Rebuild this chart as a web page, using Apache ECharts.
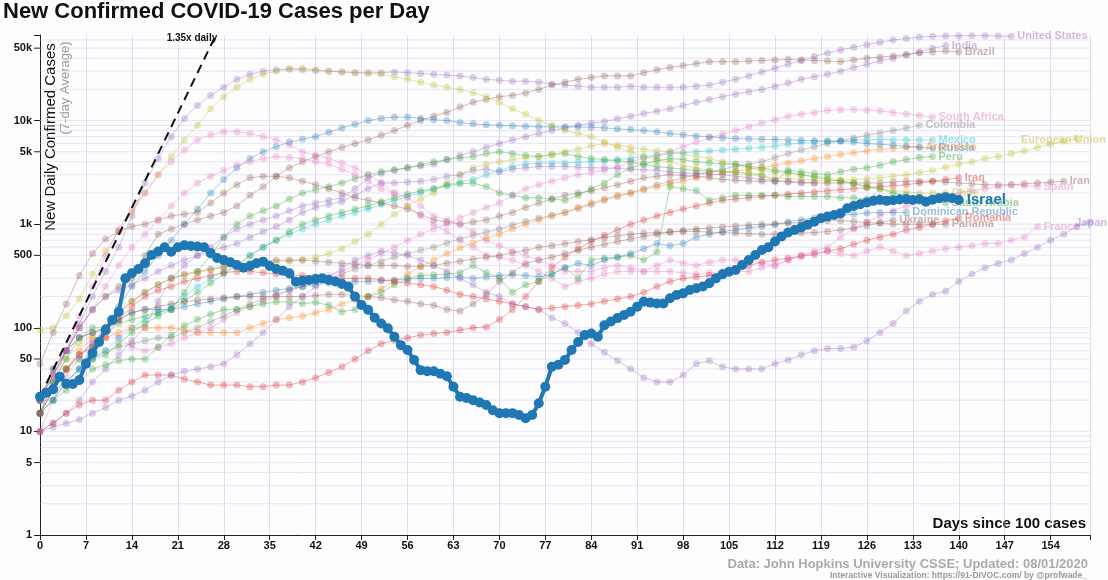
<!DOCTYPE html>
<html><head><meta charset="utf-8">
<script src="https://cdn.jsdelivr.net/npm/echarts@6/dist/echarts.min.js"></script>
<style>html,body{margin:0;padding:0;background:#fdfdfe}#c{width:1108px;height:580px}</style>
</head><body><div id="c"></div>
<script>
// ---------- DATA ----------
const STEP = 2; // background series: one value every 2 days, starting at day 0
const yMajorLabels = [1, 10, 100, 1000, 10000];
const yMinorLabels = [5, 50, 500, 5000, 50000];
const gridValues = [2,3,4,5,6,7,8,9,10,20,30,40,50,60,70,80,90,100,200,300,400,500,600,700,800,900,1000,2000,3000,4000,5000,6000,7000,8000,9000,10000,20000,30000,40000,50000,60000];
const growthLine = [[0, 21.6], [26.7, 65000]];

// Israel, one value per day from day 0
const israel = [21.6,23.6,25.5,33.7,28.7,28.7,31.4,45,57,73,
95,119,143,300,336,370,419,505,545,598,
543,600,627,615,610,600,527,472,450,430,
404,380,395,420,435,395,370,355,336,279,
285,289,295,300,289,280,265,249,200,166,
149,125,110,99,82,68,61,49,39,38,
38,36,34,27,21.6,21,20,19,18,16,
15,15,15,14.4,13.4,14.4,18.7,27,42,44,
49,61,73,85,88,82,106,115,124,133,
143,160,179,175,172,172,193,207,215,232,
241,250,269,300,328,348,361,404,451,505,
564,600,680,760,830,880,930,990,1057,1140,
1185,1228,1278,1424,1500,1560,1620,1680,1713,1680,
1700,1730,1740,1713,1740,1650,1720,1780,1820,1780,
1713];

const usa = [20,35,60,110,200,350,600,1200,2500,4300,7000,10500,14000,17500,21000,25000,28000,30000,31000,31500,31000,30500,30000,29500,29000,29000,29000,29500,29000,28500,28000,27500,27000,26000,25000,24500,24000,24000,23500,22500,22000,21500,21000,21000,21000,21500,21000,21000,21000,21000,21500,22000,23500,25000,27000,29500,32000,35000,38000,41500,45000,48000,51000,54000,57000,60000,62000,64000,65000,65500,66000,66000,66000,65500,65000];
const india = [10,12,15,20,30,40,55,75,100,180,300,400,500,600,750,900,1000,1100,1200,1350,1500,1600,1700,1800,2200,2800,3100,3300,3500,3650,3800,4200,4600,5000,5500,6000,6500,7000,7500,8000,8500,9000,9400,9800,10400,11000,11700,12300,13000,14000,15000,16000,17000,18000,19000,20000,21500,23000,25000,26500,28000,30000,32500,35000,37500,40000,43000,46000,50000,53000];
const brazil = [20,35,60,100,150,200,250,300,500,800,900,1000,1100,1200,1300,1500,1900,2300,2900,3500,4000,4500,5000,5500,6000,6500,7200,8000,9000,10000,11000,12000,13500,15000,16000,17000,17500,18500,20000,22000,23500,25000,26000,27000,27000,27000,29000,31000,32500,34000,35500,37000,37000,37000,37500,38000,38500,39000,38500,38000,37500,37000,38500,40000,41000,42000,43500,45000,46000,47000,46000];
const southAfrica = [10,20,35,50,75,100,80,65,60,65,70,80,90,100,120,140,160,180,200,230,250,280,320,350,400,450,520,600,700,800,900,1000,1150,1300,1450,1600,1900,2200,2400,2600,2800,3000,3150,3300,3600,4000,4300,4600,5000,5600,6200,6800,7400,8000,8700,9500,10200,11000,11500,12000,12500,12700,12800,12600,12400,12000,11600,11200,10800];
const colombia = [20,25,30,40,50,60,65,70,75,80,80,90,100,115,130,150,170,190,210,230,250,280,300,330,370,400,440,480,520,560,600,660,720,780,840,900,980,1060,1140,1220,1300,1420,1550,1700,1850,2000,2200,2400,2600,2800,3000,3200,3400,3600,3800,4000,4400,4800,5200,5600,6000,6400,6800,7200,7600,8000,8500,9000];
const mexico = [15,20,30,40,50,60,80,100,120,140,160,200,250,300,350,400,500,600,700,800,900,1000,1100,1200,1300,1400,1550,1700,1850,2000,2200,2400,2550,2700,3000,3300,3600,3800,3900,3900,3900,3950,4000,4100,4200,4300,4500,4600,4800,4900,5000,5100,5200,5300,5400,5500,5700,5900,6100,6200,6300,6400,6500,6500,6600,6500,6500,6500,6500];
const argentina = [15,25,40,60,80,80,90,100,100,100,100,95,90,90,90,90,100,110,120,125,130,140,150,170,185,200,240,280,330,390,450,520,590,660,730,800,900,1000,1100,1200,1300,1450,1600,1750,1900,2000,2150,2300,2450,2600,2800,2950,3100,3250,3400,3500,3700,3900,4100,4300,4500,4700,4900,5100,5300,5400,5500,5600];
const russia = [15,20,30,40,65,100,160,250,350,500,700,1000,1400,2000,2700,3500,4300,5000,5600,6200,6600,7000,7700,8500,9200,10000,10500,10800,10800,10500,10200,10000,9600,9300,9100,9000,8900,8800,8700,8700,8700,8700,8600,8500,8300,8200,8000,7800,7500,7300,7100,7000,6800,6700,6650,6600,6550,6500,6450,6400,6350,6300,6200,6000,5900,5800,5650,5500,5400];
const peru = [20,30,40,50,50,55,70,90,110,130,150,220,350,500,750,1000,1200,1350,1500,1750,2000,2150,2300,2500,2750,3000,3200,3350,3500,3750,4000,4200,4350,4500,4800,5000,4800,4600,4500,4700,4800,4500,4300,4200,4100,4000,3800,3600,3500,3400,3300,3250,3200,3200,3100,3000,2600,3300,3200,3100,3000,3200,3400,3500,3700,4000,4200,4400,4500];
const eu = [95,100,130,190,330,550,850,1300,2000,3000,4500,6500,9000,13000,17000,21000,25000,28000,30000,31500,32000,31000,30000,29500,29000,28500,28000,26500,25000,23500,22000,21000,20000,18500,17000,15000,13000,11500,10000,9000,8000,7500,7000,6200,5500,5000,4500,4200,4000,3700,3500,3300,3200,3100,3000,2900,2800,2750,2700,2650,2600,2650,2700,2750,2800,2900,3000,3150,3300,3550,3800,4000,4300,4500,4800,5100,5500,5900,6300,6700];
const iraq = [10,12,15,18,20,20,25,30,35,35,35,32,30,28,28,28,27,27,28,28,30,33,37,42,50,60,70,76,80,85,88,90,95,100,102,120,150,200,280,380,480,580,680,780,880,1000,1100,1200,1300,1400,1500,1600,1700,1750,1800,1850,1900,1950,2000,2050,2100,2150,2200,2250,2300,2350,2400,2500,2600,2700,2800];
const iran = [45,90,170,320,520,720,850,950,1000,1100,1200,1250,1300,1600,2000,2400,2800,2900,2900,2800,2600,2400,2200,2000,1800,1700,1600,1500,1400,1250,1100,1050,1000,1050,1100,1200,1300,1450,1600,1750,1900,2000,2100,2250,2400,2600,2800,2900,3000,2950,2900,2800,2700,2650,2600,2600,2600,2550,2500,2500,2500,2500,2500,2500,2500,2550,2600,2600,2600,2550,2500,2450,2400,2400,2400,2450,2500,2550,2600];
const spain = [20,35,60,130,250,500,900,1400,2000,3000,4000,5200,6500,7300,7800,7800,7500,7000,6500,5800,5000,4600,4300,3900,3500,3000,2500,2000,1500,1200,1000,850,700,600,500,480,450,400,350,300,250,280,300,330,350,350,350,350,350,340,330,340,350,350,350,380,400,450,500,550,600,750,900,1050,1200,1350,1500,1650,1800,1900,2000,2100,2200,2300,2400,2350,2300];
const chile = [20,30,50,70,85,100,140,180,220,260,300,320,340,360,380,400,410,420,430,440,450,480,520,580,680,800,1000,1250,1500,1750,2000,2500,3000,3500,3800,4000,4200,4400,4500,4700,5000,5300,5700,6000,5800,5500,5300,5100,5000,4800,4500,4300,4000,3800,3500,3300,3200,3100,3000,2900,2800,2650,2500,2300,2200,2100,2050,2000,2000,2000];
const saudiArabia = [15,30,50,80,100,100,110,120,130,140,150,180,220,270,330,400,500,600,700,850,1000,1100,1200,1300,1400,1500,1650,1800,1950,2100,2200,2350,2450,2500,2300,2000,1900,1800,1800,1750,1700,1900,2200,2500,3000,3500,3800,4100,4300,4200,4000,3900,3800,3800,3600,3500,3300,3200,3000,2850,2700,2600,2450,2300,2200,2000,1900,1800,1700,1600];
const kazakhstan = [15,20,25,30,40,44,48,50,50,65,85,105,120,135,150,150,160,170,178,178,172,175,166,143,150,200,220,260,300,320,325,330,340,400,340,300,220,260,280,330,380,300,450,470,480,500,450,540,2300,2200,2100,1700,1800,1900,1900,1900,1900,1850,1850,1850,1850,1800,1800,1750];
const dominicanRep = [20,40,60,80,90,100,120,140,150,150,150,160,170,180,190,200,210,220,230,240,250,260,270,275,280,280,285,290,295,300,300,305,310,300,310,320,325,320,310,330,380,420,400,450,480,520,580,650,620,650,750,800,850,880,920,950,1000,1050,1100,1150,1200,1220,1250,1280,1300,1300,1300];
const romania = [15,25,40,55,65,80,120,160,200,230,250,280,300,320,340,350,350,340,330,320,320,310,300,300,300,300,290,280,270,260,250,230,210,200,190,180,170,160,150,155,160,165,170,180,190,200,220,250,280,300,310,320,340,360,400,430,450,470,490,510,550,580,640,700,750,800,880,930,1000,1080,1150];
const ukraine = [15,25,40,55,70,100,140,180,220,260,300,330,350,370,390,400,420,440,450,450,450,440,430,420,410,400,400,400,390,390,400,420,440,460,480,500,530,560,600,620,650,680,710,740,770,800,820,830,840,850,850,840,830,820,810,800,800,810,820,830,850,880,920,970,1030,1100];
const panama = [20,40,60,80,90,100,120,140,150,160,170,180,185,190,195,200,200,200,200,200,200,205,210,210,205,200,195,185,180,170,165,150,145,170,210,280,340,420,450,480,520,560,600,640,680,720,760,800,840,870,900,920,940,960,980,1000,1000,1020,1040,1060,1080,1080,1060,1040,1020,1000,1000,1000,1000,1000];
const france = [20,35,60,100,150,250,400,600,800,1100,1500,2000,2500,2900,3300,3700,4000,4300,4500,4400,4300,4000,3800,3400,3000,2600,2200,2000,1800,1500,1200,1100,1000,850,700,620,550,500,450,400,350,350,350,380,400,380,350,400,450,420,400,430,450,450,450,420,400,450,500,530,550,520,500,550,600,550,500,520,550,580,600,620,650,650,700,750,950];
const japan = [10,11,12,13,15,17,20,22,25,30,35,38,40,42,45,55,70,90,120,160,200,250,300,380,450,500,550,530,500,450,400,350,300,260,220,200,170,160,150,125,110,90,70,58,48,40,33,30,30,35,45,48,42,40,40,40,45,49,55,60,63,63,65,75,90,110,145,180,210,225,280,330,380,420,450,520,600,700,800,950,1050];
const bangladesh = [15,30,60,100,150,200,230,260,300,350,400,450,500,550,600,650,750,850,950,1100,1300,1450,1550,1650,1900,2200,2500,2500,2550,2600,2700,2900,3000,3300,3400,3200,3400,3500,3600,3600,3600,3550,3500,3500,3450,3400,3350,3300,3200,3100,3100,3050,3000,2900,2800,2700,2650,2600,2550,2500];

const PAL = {blue:'#1f77b4', orange:'#ff7f0e', green:'#2ca02c', red:'#d62728', purple:'#9467bd',
  brown:'#8c564b', pink:'#e377c2', gray:'#7f7f7f', olive:'#bcbd22', cyan:'#17becf'};

// name, values, colour, label: undefined = after the line end, a number = right-aligned and
// pushed that many px past the end (kept inside the chart), 'none' = no label
const background = [
  ['United States', usa, PAL.purple], ['India', india, PAL.purple], ['Brazil', brazil, PAL.brown],
  ['South Africa', southAfrica, PAL.pink], ['Colombia', colombia, PAL.gray], ['Mexico', mexico, PAL.cyan],
  ['Argentina', argentina, PAL.orange], ['Russia', russia, PAL.blue], ['Peru', peru, PAL.green],
  ['European Union', eu, PAL.olive, 26], ['Iraq', iraq, PAL.red], ['Iran', iran, PAL.brown],
  ['Spain', spain, PAL.pink], ['Chile', chile, PAL.olive], ['Saudi Arabia', saudiArabia, PAL.green],
  ['Kazakhstan', kazakhstan, PAL.green], ['Dominican Republic', dominicanRep, PAL.blue],
  ['Romania', romania, PAL.red], ['Ukraine', ukraine, PAL.brown], ['Panama', panama, PAL.brown],
  ['France', france, PAL.pink], ['Japan', japan, PAL.purple, 14],
  ['Bangladesh', bangladesh, PAL.purple, 'none']
];

// ---------- CHART ----------
const FONT = 'Liberation Sans';
function rgba(hex, a) {
  const n = parseInt(hex.slice(1), 16);
  return `rgba(${(n >> 16) & 255},${(n >> 8) & 255},${n & 255},${a})`;
}
function fmtK(v) { return v >= 1000 ? (v / 1000) + 'k' : String(v); }

const series = [];

series.push({
  type: 'custom', name: 'grid', silent: true, z: 1, clip: false,
  data: gridValues.map(v => [0, v]),
  encode: {x: 0, y: 1},
  renderItem(params, api) {
    const v = api.value(1);
    const p = api.coord([0, v]);
    const cs = params.coordSys;
    const children = [{type: 'line', shape: {x1: cs.x, y1: p[1], x2: cs.x + cs.width, y2: p[1]},
      style: {stroke: 'rgba(200,190,232,0.4)', lineWidth: 1}}];
    if (yMinorLabels.includes(v)) {
      children.push({type: 'line', shape: {x1: cs.x - 6, y1: p[1], x2: cs.x, y2: p[1]},
        style: {stroke: '#222', lineWidth: 1}});
      children.push({type: 'text', style: {text: fmtK(v), x: cs.x - 8, y: p[1], align: 'right',
        verticalAlign: 'middle', font: `bold 11px "${FONT}"`, fill: '#111'}});
    }
    return {type: 'group', children};
  }
});

background.forEach(([name, vals, color, mode]) => {
  const endLabel = {show: mode !== 'none', formatter: '{a}', color: rgba(color, 0.45), fontFamily: FONT,
    fontWeight: 'bold', fontSize: 11, distance: 6};
  if (typeof mode === 'number') Object.assign(endLabel, {align: 'right', distance: 3, offset: [mode, 1]});
  series.push({
    type: 'line', name, silent: true, z: 3,
    data: vals.map((v, i) => [i * STEP, v]),
    symbol: 'circle', symbolSize: 7, showSymbol: true,
    lineStyle: {width: 1, color: rgba(color, 0.38)},
    itemStyle: {color: rgba(color, 0.3), borderWidth: 0},
    endLabel,
    emphasis: {disabled: true}
  });
});

series.push({
  type: 'line', name: '1.35x daily', silent: true, z: 5,
  data: growthLine,
  symbol: 'none',
  lineStyle: {color: '#111', width: 2, type: [9, 6]},
  endLabel: {show: true, formatter: '1.35x daily', align: 'right', distance: 0, offset: [2, 2],
    color: '#111', fontFamily: FONT, fontWeight: 'bold', fontSize: 10},
  emphasis: {disabled: true}
});

series.push({
  type: 'line', name: 'Israel', silent: true, z: 10,
  data: israel.map((v, i) => [i, v]),
  symbol: 'circle', symbolSize: 10, showSymbol: true,
  lineStyle: {width: 4, color: '#1f77b4'},
  itemStyle: {color: '#1f77b4'},
  endLabel: {show: true, formatter: '{a}', color: '#1f77b4', fontFamily: FONT,
    fontWeight: 'bold', fontSize: 15, distance: 8},
  emphasis: {disabled: true}
});

const chart = echarts.init(document.getElementById('c'), null, {renderer: 'canvas'});
chart.setOption({
  animation: false,
  backgroundColor: '#fdfdfe',
  textStyle: {fontFamily: FONT},
  grid: {left: 40, right: 18, top: 35, bottom: 45, containLabel: false},
  xAxis: {
    type: 'value', min: 0, max: 160, interval: 7,
    axisLine: {lineStyle: {color: '#222', width: 1}},
    axisTick: {length: 5, lineStyle: {color: '#222'}},
    axisLabel: {color: '#111', fontWeight: 'bold', fontSize: 11, margin: 5,
      formatter: v => (v % 7 === 0 ? String(v) : '')},
    splitLine: {show: true, lineStyle: {color: 'rgba(200,190,232,0.5)', width: 1}}
  },
  yAxis: {
    type: 'log', logBase: 10, min: 1, max: 67000,
    axisLine: {show: true, lineStyle: {color: '#222', width: 1}},
    axisTick: {show: true, length: 6, lineStyle: {color: '#222'}},
    axisLabel: {color: '#111', fontWeight: 'bold', fontSize: 11, margin: 8,
      formatter: v => { const r = Math.round(v); return yMajorLabels.includes(r) ? fmtK(r) : ''; }},
    splitLine: {show: false},
    minorTick: {show: false}
  },
  graphic: [
    {type: 'text', left: 3, top: 1, style: {text: 'New Confirmed COVID-19 Cases per Day',
      font: `bold 22px "${FONT}"`, fill: '#111'}},
    {type: 'text', x: 51, y: 137, rotation: Math.PI / 2, style: {text: 'New Daily Confirmed Cases',
      font: `15px "${FONT}"`, fill: '#111', align: 'center', verticalAlign: 'middle'}},
    {type: 'text', x: 65, y: 88, rotation: Math.PI / 2, style: {text: '(7-day Average)',
      font: `13px "${FONT}"`, fill: '#999', align: 'center', verticalAlign: 'middle'}},
    {type: 'text', right: 22, bottom: 49, style: {text: 'Days since 100 cases',
      font: `bold 15px "${FONT}"`, fill: '#111', align: 'right'}},
    {type: 'text', right: 20, bottom: 9, style: {text: 'Data: John Hopkins University CSSE; Updated: 08/01/2020',
      font: `bold 13px "${FONT}"`, fill: '#aaa', align: 'right'}},
    {type: 'text', right: 21, bottom: 0, style: {text: 'Interactive Visualization: https://91-DIVOC.com/ by @profwade_',
      font: `bold 8.5px "${FONT}"`, fill: '#999', align: 'right'}}
  ],
  series
});
</script>
</body></html>
